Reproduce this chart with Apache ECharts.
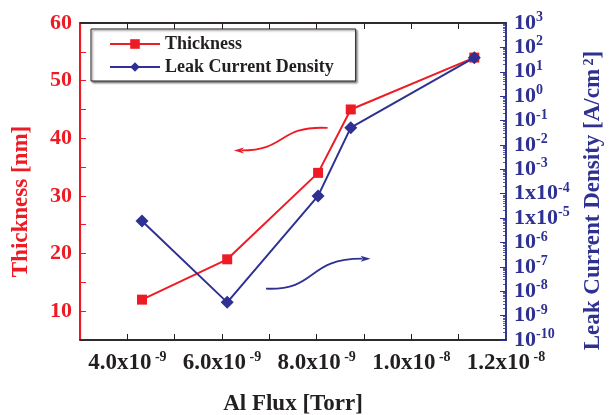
<!DOCTYPE html>
<html><head><meta charset="utf-8">
<script src="https://cdn.jsdelivr.net/npm/echarts@6/dist/echarts.min.js"></script>
<style>html,body{margin:0;padding:0;background:#fff}#c{width:612px;height:415px}</style>
</head><body><div id="c"></div>
<script>
// Al flux in units of 1e-9 Torr
const alFlux = [4.31, 6.11, 8.03, 8.72, 11.33];
const thickness = [12, 19, 34, 45, 54];            // nm
const leakCurrent = [7.6e-6, 3.5e-9, 8.1e-5, 5.1e-2, 38]; // A/cm^2
const xTickLabels = [4, 6, 8, 10, 12];              // x1e-9 Torr
const xMinorTicks = [4, 5, 6, 7, 8, 9, 10, 11];
const thickTickLabels = [10, 20, 30, 40, 50, 60];
const thickTicks = [10, 15, 20, 25, 30, 35, 40, 45, 50, 55];
const leakDecades = [-10, -9, -8, -7, -6, -5, -4, -3, -2, -1, 0, 1, 2, 3];
// annotation arrows in data coords (x: flux, y: thickness)
const redArrow = [[8.23, 41.8], [7.17, 42.2], [7.38, 37.9], [6.25, 37.9]];
const blueArrow = [[6.93, 13.9], [8.04, 13.6], [7.77, 19.15], [9.14, 19.1]];

const RED = '#ED1C24', BLUE = '#2E3192', DARK = '#231F20';
const FONT = 'Liberation Serif';

const decadeVals = leakDecades.map(k => Math.pow(10, k));
const minorVals = [];
leakDecades.slice(0, -1).forEach(k => { for (let m = 2; m <= 9; m++) minorVals.push(m * Math.pow(10, k)); });

function xLabel(v) {
  const sci = { 4: ['4.0', -9], 6: ['6.0', -9], 8: ['8.0', -9], 10: ['1.0', -8], 12: ['1.2', -8] }[Math.round(v)];
  if (!sci) return '';
  return '{b|' + sci[0] + 'x10}{s| ' + sci[1] + '}';
}
function leakLabel(v) {
  const k = Math.round(Math.log10(v));
  const base = (k === -4 || k === -5) ? '1x10' : '10';
  return '{b|' + base + '}{s|' + k + '}';
}
const richDark = {
  b: { fontFamily: FONT, fontWeight: 'bold', fontSize: 23, color: DARK, lineHeight: 26 },
  s: { fontFamily: FONT, fontWeight: 'bold', fontSize: 14, color: DARK, lineHeight: 12, verticalAlign: 'top' }
};
const richBlue = {
  b: { fontFamily: FONT, fontWeight: 'bold', fontSize: 22, color: BLUE, lineHeight: 25 },
  s: { fontFamily: FONT, fontWeight: 'bold', fontSize: 14, color: BLUE, lineHeight: 12, verticalAlign: 'top' }
};
const gridPos = { left: 80, right: 106, top: 23, bottom: 75, containLabel: false, outerBoundsMode: 'none' };

const chart = echarts.init(document.getElementById('c'));
chart.setOption({
  animation: false,
  backgroundColor: '#fff',
  grid: [
    Object.assign({ show: true, borderColor: DARK, borderWidth: 1.5, backgroundColor: 'transparent' }, gridPos),
    Object.assign({}, gridPos)
  ],
  legend: {
    orient: 'vertical', left: 91, top: 29,
    padding: [6, 22, 5, 18], itemGap: 5,
    itemWidth: 50, itemHeight: 12,
    borderColor: DARK, borderWidth: 1, backgroundColor: '#fff',
    shadowColor: 'rgba(0,0,0,0.45)', shadowBlur: 2, shadowOffsetX: 1.5, shadowOffsetY: 1.5,
    textStyle: { fontFamily: FONT, fontWeight: 'bold', fontSize: 18, color: DARK },
    data: ['Thickness', 'Leak Current Density']
  },
  xAxis: [{
    gridIndex: 0, type: 'value', min: 3, max: 12, position: 'bottom',
    name: 'Al Flux [Torr]', nameLocation: 'middle', nameGap: 53,
    nameTextStyle: { fontFamily: FONT, fontWeight: 'bold', fontSize: 23, color: DARK },
    axisLine: { show: true, onZero: false, lineStyle: { color: DARK, width: 1.5 } },
    axisTick: { show: true, inside: true, length: 6, customValues: xMinorTicks, lineStyle: { color: DARK, width: 1 } },
    axisLabel: { customValues: xTickLabels, margin: 10, formatter: xLabel, rich: richDark },
    splitLine: { show: false }
  }, {
    gridIndex: 0, type: 'value', min: 3, max: 12, position: 'top',
    axisLine: { show: true, onZero: false, lineStyle: { color: DARK, width: 1.5 } },
    axisTick: { show: true, inside: true, length: 6, customValues: xMinorTicks, lineStyle: { color: DARK, width: 1 } },
    axisLabel: { show: false }, splitLine: { show: false }
  }, {
    gridIndex: 1, type: 'value', min: 3, max: 12, position: 'bottom', show: false
  }],
  yAxis: [{
    gridIndex: 0, type: 'value', min: 5, max: 60, position: 'left',
    name: 'Thickness [nm]', nameLocation: 'middle', nameGap: 47, nameRotate: 90,
    nameTextStyle: { fontFamily: FONT, fontWeight: 'bold', fontSize: 23, color: RED, padding: [0, 40, 0, 0] },
    axisLine: { show: true, onZero: false, lineStyle: { color: RED, width: 1.2 } },
    axisTick: { show: true, inside: true, length: 6, customValues: thickTicks, lineStyle: { color: RED, width: 1 } },
    axisLabel: { customValues: thickTickLabels, margin: 8, fontFamily: FONT, fontWeight: 'bold', fontSize: 22, color: RED },
    splitLine: { show: false }
  }, {
    gridIndex: 1, type: 'log', logBase: 10, min: 1e-10, max: 1e3, position: 'right',
    name: 'Leak Current Density [A/cm{s| 2}]', nameLocation: 'middle', nameGap: 76, nameRotate: 90,
    nameTextStyle: {
      fontFamily: FONT, fontWeight: 'bold', fontSize: 23, color: BLUE, padding: [0, 38, 0, 0],
      rich: { s: { fontFamily: FONT, fontWeight: 'bold', fontSize: 14, color: BLUE, verticalAlign: 'top', lineHeight: 12 } }
    },
    axisLine: { show: true, onZero: false, lineStyle: { color: BLUE, width: 1.5 } },
    axisTick: { show: true, inside: true, length: 6, customValues: decadeVals, lineStyle: { color: BLUE, width: 1 } },
    axisLabel: { customValues: decadeVals, margin: 8, formatter: leakLabel, rich: richBlue },
    splitLine: { show: false }, minorSplitLine: { show: false }
  }, {
    gridIndex: 1, type: 'log', logBase: 10, min: 1e-10, max: 1e3, position: 'right',
    axisLine: { show: false, onZero: false },
    axisTick: { show: true, inside: true, length: 3, customValues: minorVals, lineStyle: { color: BLUE, width: 0.8 } },
    axisLabel: { show: false }, splitLine: { show: false }
  }],
  series: [{
    name: 'Thickness', type: 'line', xAxisIndex: 0, yAxisIndex: 0,
    data: alFlux.map((x, i) => [x, thickness[i]]),
    symbol: 'rect', symbolSize: 10, color: RED,
    lineStyle: { color: RED, width: 2 }, itemStyle: { color: RED }, z: 2
  }, {
    name: 'Leak Current Density', type: 'line', xAxisIndex: 2, yAxisIndex: 1,
    data: alFlux.map((x, i) => [x, leakCurrent[i]]),
    symbol: 'diamond', symbolSize: 13, color: BLUE,
    lineStyle: { color: BLUE, width: 2 }, itemStyle: { color: BLUE }, z: 3
  }]
});

function arrowGraphic(pts, color) {
  const p = pts.map(d => chart.convertToPixel({ xAxisIndex: 0, yAxisIndex: 0 }, d));
  const [s, c1, c2, e] = p;
  const dx = e[0] - c2[0], dy = e[1] - c2[1];
  const L = Math.hypot(dx, dy) || 1;
  const ux = dx / L, uy = dy / L;
  const hl = 10, hw = 3;
  const bx = e[0] - ux * hl, by = e[1] - uy * hl;
  return [{
    type: 'bezierCurve', silent: true,
    shape: { x1: s[0], y1: s[1], cpx1: c1[0], cpy1: c1[1], cpx2: c2[0], cpy2: c2[1], x2: bx + ux * 2, y2: by + uy * 2 },
    style: { stroke: color, lineWidth: 1.8, fill: null }
  }, {
    type: 'polygon', silent: true,
    shape: { points: [[e[0], e[1]], [bx - uy * hw, by + ux * hw], [bx + ux * 2.5, by + uy * 2.5], [bx + uy * hw, by - ux * hw]] },
    style: { fill: color }
  }];
}
chart.setOption({ graphic: arrowGraphic(redArrow, RED).concat(arrowGraphic(blueArrow, BLUE)) });
</script></body></html>
